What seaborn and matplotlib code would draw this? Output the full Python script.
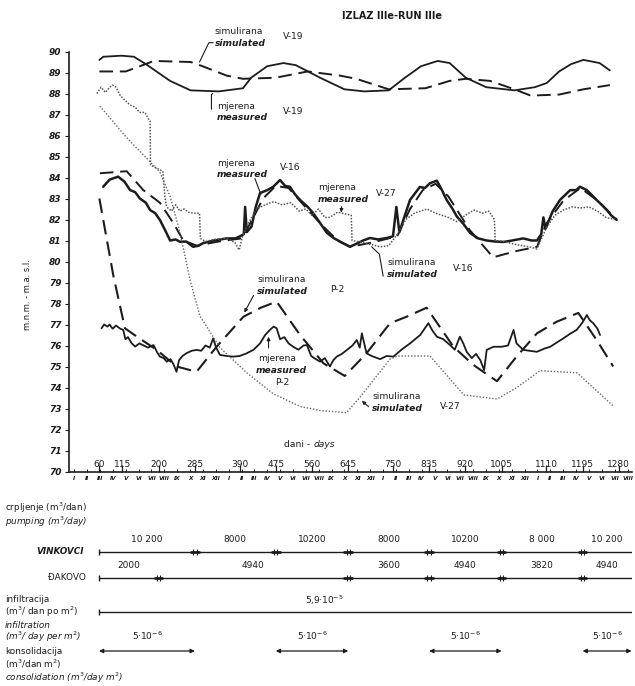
import matplotlib
matplotlib.use("Agg")
import matplotlib.pyplot as plt
import seaborn as sns


W, H = 635, 686
INK = "#1c1c1c"

# ---- groundwater levels (m a.s.l.) vs day ----
V19_MEAS_DAY = [61, 70, 113, 142, 170, 227, 275, 341, 398, 417, 455, 493, 522, 579, 636, 683,
                740, 778, 816, 855, 883, 921, 969, 1035, 1083, 1111, 1140, 1168, 1197, 1235, 1259]
V19_MEAS = [89.6, 89.75, 89.8, 89.75, 89.4, 88.6, 88.15, 88.1, 88.25, 88.75, 89.3, 89.45, 89.35, 88.75,
            88.2, 88.1, 88.15, 88.75, 89.3, 89.55, 89.45, 88.75, 88.3, 88.15, 88.3, 88.5, 89.05, 89.4,
            89.6, 89.45, 89.1]

V19_SIM_DAY = [61, 123, 189, 275, 303, 360, 398, 474, 550, 626, 664, 740, 826, 883, 921, 978,
               1035, 1073, 1140, 1197, 1259]
V19_SIM = [89.05, 89.05, 89.55, 89.5, 89.3, 88.85, 88.7, 88.75, 89.05, 88.85, 88.7, 88.2, 88.25,
           88.6, 88.7, 88.6, 88.2, 87.9, 87.95, 88.2, 88.4]

V16_MEAS_DAY = [70, 85, 105, 120, 133, 145, 156, 170, 180, 192, 203, 215, 227, 240, 250, 265, 281,
                293, 305, 330, 360, 380, 391, 400, 403, 407, 418, 428, 438, 455, 469, 485, 497, 508,
                520, 532, 550, 563, 580, 595, 612, 633, 649, 665, 680, 696, 715, 736, 750, 758, 765,
                778, 790, 800, 813, 825, 837, 853, 865, 876, 890, 900, 915, 931, 950, 970, 990, 1009,
                1030, 1056, 1075, 1088, 1098, 1103, 1108, 1125, 1142, 1166, 1180, 1189, 1205, 1215,
                1228, 1240, 1252, 1262, 1275]
V16_MEAS = [83.56, 83.9, 84.04, 83.8, 83.4, 83.3, 83.0, 82.8, 82.45, 82.3, 81.98, 81.5, 81.0, 81.05,
            80.94, 80.95, 80.7, 80.75, 80.88, 81.0, 81.1, 81.1, 81.2, 81.3, 82.6, 81.4, 81.66, 82.6,
            83.26, 83.4, 83.56, 83.88, 83.6, 83.56, 83.2, 82.93, 82.6, 82.3, 81.8, 81.36, 81.1,
            80.87, 80.7, 80.85, 81.0, 81.12, 81.05, 81.12, 81.2, 82.6, 81.4, 82.2, 82.93, 83.2,
            83.55, 83.5, 83.73, 83.85, 83.4, 82.93, 82.5, 82.14, 81.8, 81.36, 81.1, 81.0, 80.95,
            80.93, 81.0, 81.1, 81.0, 81.0, 81.3, 82.1, 81.56, 82.4, 82.93, 83.4, 83.4, 83.56, 83.4,
            83.2, 82.93, 82.7, 82.45, 82.2, 81.98]

V16_SIM_DAY = [62, 125, 164, 203, 234, 258, 290, 340, 395, 420, 445, 475, 505, 540, 580, 620, 650,
               700, 760, 790, 820, 850, 880, 930, 985, 1040, 1088, 1110, 1150, 1190, 1230, 1275]
V16_SIM = [84.2, 84.3, 83.4, 82.8, 81.85, 81.0, 80.75, 80.95, 81.1, 82.0, 83.0, 83.6, 83.5, 82.7,
           81.8, 81.0, 80.7, 80.9, 81.2, 82.5, 83.4, 83.7, 83.1, 81.5, 80.2, 80.5, 80.7, 81.8, 82.9,
           83.5, 82.9, 82.0]

V27_MEAS_DAY = [55, 65, 75, 85, 92, 100, 110, 120, 133, 145, 155, 168, 176, 180, 181, 195, 210, 215,
                219, 230, 240, 250, 260, 270, 282, 296, 298, 310, 330, 360, 379, 389, 397, 410, 430,
                450, 470, 490, 510, 530, 545, 560, 575, 590, 602, 620, 631, 652, 654, 680, 700, 720,
                740, 760, 780, 800, 830, 850, 880, 900, 920, 940, 960, 975, 988, 990, 1010, 1040,
                1070, 1088, 1110, 1130, 1150, 1170, 1190, 1210, 1230, 1250, 1275]
V27_MEAS = [88.0, 88.3, 88.05, 88.3, 88.4, 88.3, 87.9, 87.7, 87.45, 87.35, 87.1, 87.1, 86.8, 86.7,
            84.6, 84.45, 84.3, 83.0, 82.6, 82.4, 82.7, 82.4, 82.5, 82.35, 82.3, 82.3, 81.1, 80.95,
            81.05, 81.1, 80.9, 80.55, 81.2, 81.8, 82.5, 82.7, 82.85, 82.7, 82.8, 82.4, 82.5, 82.2,
            82.5, 82.1, 82.1, 82.35, 82.3, 82.2, 81.0, 80.9, 80.8, 80.7, 80.75, 81.3, 82.0, 82.3,
            82.5, 82.3, 82.1, 81.9, 82.2, 82.45, 82.3, 82.4, 82.0, 81.0, 80.95, 80.8, 80.7, 80.6,
            81.6, 82.2, 82.45, 82.6, 82.55, 82.6, 82.4, 82.1, 81.98]

V27_SIM_DAY = [62, 125, 180, 203, 227, 250, 274, 297, 344, 407, 469, 532, 580, 641, 673, 704, 743,
               760, 837, 916, 994, 1041, 1095, 1182, 1268]
V27_SIM = [87.4, 85.9, 84.75, 84.25, 83.1, 81.4, 79.1, 77.4, 75.9, 74.7, 73.7, 73.1, 72.9, 72.8,
           73.55, 74.35, 75.35, 75.5, 75.5, 73.65, 73.45, 74.0, 74.8, 74.7, 73.1]

P2_MEAS_DAY = [66, 72, 80, 85, 92, 100, 110, 117, 122, 128, 137, 145, 155, 165, 175, 188, 196, 203,
               212, 219, 228, 235, 242, 248, 256, 266, 278, 289, 300, 310, 320, 328, 335, 344, 360,
               375, 390, 407, 423, 438, 450, 461, 470, 477, 485, 495, 505, 516, 528, 540, 548, 558,
               569, 579, 590, 602, 610, 618, 630, 642, 655, 665, 672, 677, 688, 700, 720, 735, 751,
               770, 790, 814, 833, 843, 853, 868, 884, 895, 907, 915, 923, 935, 945, 955, 964, 970,
               986, 1005, 1020, 1033, 1040, 1056, 1070, 1088, 1105, 1119, 1135, 1150, 1165, 1181,
               1195, 1205, 1212, 1220, 1230, 1236]
P2_MEAS = [76.82, 77.0, 76.9, 77.0, 76.8, 76.95, 76.8, 76.74, 76.3, 76.4, 76.1, 75.95, 76.1, 76.0,
           75.9, 76.02, 75.7, 75.47, 75.4, 75.23, 75.35, 75.1, 74.75, 75.3, 75.5, 75.64, 75.75,
           75.79, 75.75, 76.0, 75.9, 76.34, 75.9, 75.55, 75.5, 75.47, 75.5, 75.63, 75.8, 76.1,
           76.5, 76.74, 76.9, 76.82, 76.3, 76.4, 76.1, 75.94, 75.8, 76.0, 76.02, 75.5, 75.35,
           75.23, 75.4, 75.0, 75.3, 75.47, 75.6, 75.79, 76.0, 76.26, 75.9, 76.58, 75.63, 75.5,
           75.35, 75.5, 75.47, 75.8, 76.1, 76.5, 77.06, 76.7, 76.42, 76.3, 76.02, 75.8, 76.42,
           76.1, 75.7, 75.4, 75.6, 75.3, 74.83, 75.79, 75.94, 75.94, 76.0, 76.74, 76.1, 75.79,
           75.75, 75.7, 75.85, 75.94, 76.15, 76.34, 76.55, 76.74, 77.1, 77.45, 77.2, 77.06, 76.8,
           76.5]

P2_SIM_DAY = [61, 94, 121, 149, 195, 242, 289, 336, 399, 440, 477, 532, 587, 637, 688, 743, 782, 829,
              892, 939, 994, 1040, 1088, 1134, 1185, 1228, 1267]
P2_SIM = [83.0, 79.3, 76.82, 76.42, 75.8, 75.0, 74.75, 75.94, 77.37, 77.8, 78.09, 76.5, 75.15, 74.55,
          75.63, 77.06, 77.37, 77.8, 75.94, 75.07, 74.3, 75.47, 76.58, 77.13, 77.55, 76.26, 75.0]

# ---- axis labels ----
DAY_TICKS = [60, 115, 200, 285, 390, 475, 560, 645, 750, 835, 920, 1005, 1110, 1195, 1280]
LEVEL_TICKS = list(range(70, 91))
MONTHS = ["I", "II", "III", "IV", "V", "VI", "VII", "VIII", "IX", "X", "XI", "XII"] * 3 + \
         ["I", "II", "III", "IV", "V", "VI", "VII", "VIII"]
MONTH_LEN = 30.2

# ---- boundary conditions table ----
VINK_BOUNDS = [60, 285, 475, 645, 835, 1005, 1195, 1310]
VINK_RATE = ["10 200", "8000", "10200", "8000", "10200", "8 000", "10 200"]
DAK_BOUNDS = [60, 200, 645, 835, 1005, 1195, 1310]
DAK_RATE = ["2000", "4940", "3600", "4940", "3820", "4940"]
INFIL_SPAN = [60, 1310]
INFIL_RATE = "5,9·10$^{-5}$"
CONS_START = [60, 475, 835, 1195]
CONS_END = [285, 645, 1005, 1310]
CONS_RATE = "5·10$^{-6}$"


def fpx(x, y):
    return x / W, 1 - y / H


sns.set_theme(style="ticks")
plt.rcParams["font.family"] = ["DejaVu Sans"]
plt.rcParams["mathtext.fontset"] = "dejavusans"

fig = plt.figure(figsize=(6.35, 6.86), dpi=100)
ax = fig.add_axes([68.5 / W, 1 - 471.5 / H, (632 - 68.5) / W, 420 / H])

solid = dict(color=INK, estimator=None, sort=False, ax=ax)
sns.lineplot(x=V19_MEAS_DAY, y=V19_MEAS, lw=1.3, **solid)
sns.lineplot(x=V19_SIM_DAY, y=V19_SIM, lw=1.4, linestyle=(0, (7, 3.5)), **solid)
sns.lineplot(x=V16_MEAS_DAY, y=V16_MEAS, lw=1.8, **solid)
sns.lineplot(x=V16_SIM_DAY, y=V16_SIM, lw=1.4, linestyle=(0, (7, 3.5)), **solid)
sns.lineplot(x=P2_MEAS_DAY, y=P2_MEAS, lw=1.3, **solid)
sns.lineplot(x=P2_SIM_DAY, y=P2_SIM, lw=1.5, linestyle=(0, (7, 3.5)), **solid)
sns.lineplot(x=V27_MEAS_DAY, y=V27_MEAS, color="#555555", lw=1.1, linestyle=(0, (1, 1)),
             estimator=None, sort=False, ax=ax)
sns.lineplot(x=V27_SIM_DAY, y=V27_SIM, color="#666666", lw=1.0, linestyle=(0, (1, 1.3)),
             estimator=None, sort=False, ax=ax)

ax.set_xlim(-11.5, 1311)
ax.set_ylim(70, 90)
for s in ("top", "right"):
    ax.spines[s].set_visible(False)
for s in ("left", "bottom"):
    ax.spines[s].set_linewidth(1.2)
    ax.spines[s].set_color(INK)

ax.set_yticks(LEVEL_TICKS)
ax.set_yticklabels([str(v) for v in LEVEL_TICKS], fontsize=6.5, fontweight="bold", fontstyle="italic")
ax.tick_params(axis="y", direction="out", length=3, width=0.8, pad=2, colors=INK)

ax.set_xticks(DAY_TICKS)
ax.set_xticklabels([str(d) for d in DAY_TICKS], fontsize=6.5)
ax.set_xticks([MONTH_LEN * i + 2 for i in range(len(MONTHS))], minor=True)
ax.set_xticklabels(MONTHS, minor=True, fontsize=4.2, fontstyle="italic", fontweight="bold")
ax.tick_params(axis="x", which="major", direction="in", length=5, width=0.9, pad=-8.5, colors=INK)
ax.tick_params(axis="x", which="minor", direction="in", length=2.5, width=0.7, pad=3, colors=INK)
ax.set_xlabel("")
ax.set_ylabel("")

ax.text(563, 71.3, "dani - ", fontsize=6.6, ha="right", va="center", color=INK)
ax.text(563, 71.3, "days", fontsize=6.6, fontstyle="italic", ha="left", va="center", color=INK)

txt = dict(fontsize=6.6, color=INK, va="center")
it = dict(fontsize=6.6, color=INK, va="center", fontstyle="italic", fontweight="bold")
line = dict(color=INK, lw=0.8)


def label(d, v, top, bottom, well, wd, wv, ha="left"):
    ax.text(d, v, top, ha=ha, **txt)
    ax.text(d, v - 0.55, bottom, ha=ha, **it)
    ax.text(wd, wv, well, ha="left", **txt)


label(332, 90.93, "simulirana", "simulated", "V-19", 492, 90.7)
ax.plot([328, 318, 296], [90.42, 90.42, 89.5], clip_on=False, **line)
label(337, 87.4, "mjerena", "measured", "V-19", 492, 87.15)
ax.plot([324, 324, 327], [87.25, 87.95, 88.0], **line)
label(337, 84.69, "mjerena", "measured", "V-16", 485, 84.5)
ax.plot([426, 440], [83.95, 83.2], **line)
label(574, 83.5, "mjerena", "measured", "V-27", 710, 83.25)
ax.annotate("", xy=(628, 82.2), xytext=(630, 82.75),
            arrowprops=dict(arrowstyle="-|>", color=INK, lw=0.8, mutation_scale=5))
label(736, 79.93, "simulirana", "simulated", "V-16", 891, 79.69)
ax.plot([727, 718, 700], [79.3, 80.35, 80.7], **line)
label(431, 79.12, "simulirana", "simulated", "P-2", 602, 78.65)
ax.annotate("", xy=(398, 77.45), xytext=(426, 78.5),
            arrowprops=dict(arrowstyle="-|>", color=INK, lw=0.8, mutation_scale=5))
ax.text(478, 75.4, "mjerena", ha="center", **txt)
ax.text(488, 74.83, "measured", ha="center", **it)
ax.text(490, 74.26, "P-2", ha="center", **txt)
ax.annotate("", xy=(458, 76.55), xytext=(458, 75.75),
            arrowprops=dict(arrowstyle="-|>", color=INK, lw=0.8, mutation_scale=5))
label(701, 73.55, "simulirana", "simulated", "V-27", 860, 73.1)
ax.annotate("", xy=(672, 73.45), xytext=(698, 73.0),
            arrowprops=dict(arrowstyle="-|>", color=INK, lw=0.8, mutation_scale=5))

fig.text(*fpx(392, 16), "IZLAZ IIIe-RUN IIIe", fontsize=7, fontweight="bold", ha="center",
         va="center", color=INK)
fig.text(*fpx(27, 295), "m.n.m. - m.a. s.l.", fontsize=6, rotation=90, ha="center", va="center",
         color=INK)

# ---- lower table ----
lax = fig.add_axes([68.5 / W, 0, (632 - 68.5) / W, 206 / H])
lax.set_xlim(-11.5, 1311)
lax.set_ylim(686, 480)
lax.axis("off")


def pumping_row(bounds, rates, y_line, y_text):
    lax.plot([bounds[0], bounds[-1]], [y_line, y_line], color=INK, lw=1.0)
    lax.plot([bounds[0]], [y_line], marker="|", ms=5, color=INK, mew=1)
    for b in bounds[1:-1]:
        lax.plot([b - 9, b + 9], [y_line, y_line], color=INK, lw=2.0)
        lax.plot([b - 4, b + 4], [y_line, y_line], ls="none", marker="|", ms=4, mew=0.8, color=INK)
    for a, b, r in zip(bounds[:-1], bounds[1:], rates):
        lax.text((a + b) / 2, y_text, r, ha="center", va="center", fontsize=6.5, color=INK)


pumping_row(VINK_BOUNDS, VINK_RATE, 552, 540)
pumping_row(DAK_BOUNDS, DAK_RATE, 578, 566)

lax.plot(INFIL_SPAN, [612, 612], color=INK, lw=1.0)
lax.plot([INFIL_SPAN[0]], [612], marker="|", ms=5, color=INK, mew=1)
lax.text(588, 600, INFIL_RATE, ha="center", va="center", fontsize=6.5, color=INK)

for a, b in zip(CONS_START, CONS_END):
    lax.annotate("", xy=(b, 651), xytext=(a, 651),
                 arrowprops=dict(arrowstyle="<|-|>", color=INK, lw=0.9, mutation_scale=6,
                                 shrinkA=0, shrinkB=0))
    lax.text((a + b) / 2, 636, CONS_RATE, ha="center", va="center", fontsize=6.5, color=INK)

left_txt = dict(fontsize=6.4, color=INK, va="center", ha="left")
fig.text(*fpx(5, 508), "crpljenje (m$^3$/dan)", **left_txt)
fig.text(*fpx(5, 522), "pumping (m$^3$/day)", fontstyle="italic", **left_txt)
fig.text(*fpx(84, 552), "VINKOVCI", fontsize=6.4, color=INK, va="center", ha="right",
         fontstyle="italic", fontweight="bold")
fig.text(*fpx(86, 578), "ĐAKOVO", fontsize=6.4, color=INK, va="center", ha="right")
fig.text(*fpx(5, 600), "infiltracija", **left_txt)
fig.text(*fpx(5, 612), "(m$^3$/ dan po m$^2$)", **left_txt)
fig.text(*fpx(5, 625), "infiltration", fontstyle="italic", **left_txt)
fig.text(*fpx(5, 637), "(m$^3$/ day per m$^2$)", fontstyle="italic", **left_txt)
fig.text(*fpx(5, 651), "konsolidacija", **left_txt)
fig.text(*fpx(5, 664), "(m$^3$/dan m$^2$)", **left_txt)
fig.text(*fpx(5, 678), "consolidation (m$^3$/day m$^2$)", fontstyle="italic", **left_txt)

fig.savefig("out.png", dpi=100, facecolor="white")
